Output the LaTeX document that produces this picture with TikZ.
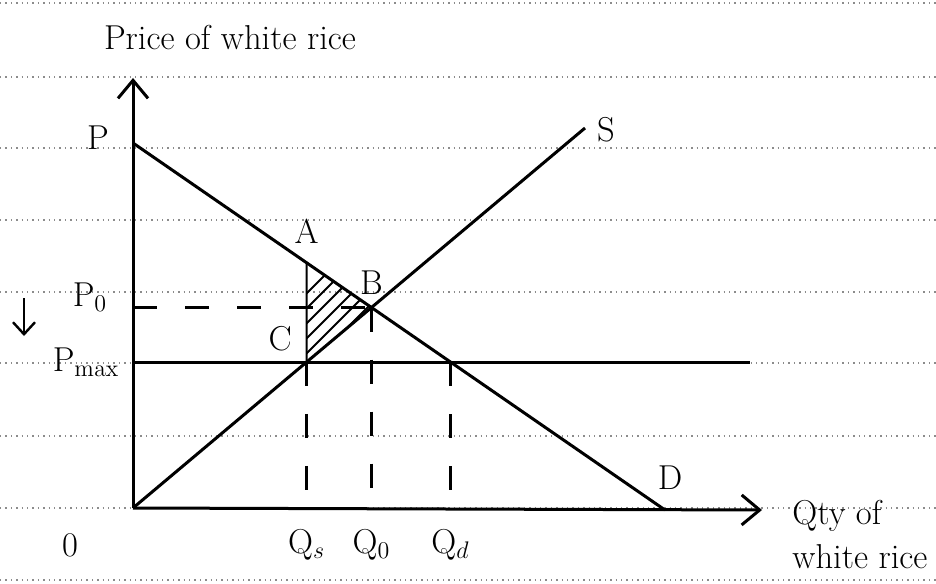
\documentclass[tikz,border=0pt]{standalone}
\usetikzlibrary{arrows.meta,positioning}
\begin{document}
\begin{tikzpicture}[x=0.5pt,y=-0.5pt, every node/.style={font=\LARGE},
  curve/.style={line width=1.5pt},
  ax/.style={line width=1.5pt,-{Straight Barb[length=9pt,width=15pt]}},
  guide/.style={line width=1.3pt,dash pattern=on 12pt off 14pt},
  hatch/.style={line width=1pt},
  ruled/.style={black!45,line width=0.7pt,dotted}]
\useasboundingbox (0,0) rectangle (936,583);
% lined paper
\foreach \y in {3,77,148,220,292,363,436,508,580}
  \draw[ruled] (0,\y) -- (936,\y);
% points
\coordinate (O) at (133,508);
\coordinate (ytip) at (133,78);
\coordinate (xtip) at (762,510);
\coordinate (P) at (133,143);
\coordinate (Dend) at (665,510);
\coordinate (Send) at (585,128);
\coordinate (Pm) at (133,362);
\coordinate (Pmend) at (750,362);
\coordinate (B) at (intersection of P--Dend and O--Send);
\coordinate (C) at (intersection of O--Send and Pm--Pmend);
\coordinate (Ctop) at (C |- P);
\coordinate (Qdp) at (intersection of P--Dend and Pm--Pmend);
\coordinate (A) at (intersection of P--Dend and C--Ctop);
\coordinate (Po) at (O |- B);
\coordinate (Qs) at (O -| C);
\coordinate (Qo) at (O -| B);
\coordinate (Qd) at (O -| Qdp);
% deadweight loss
\begin{scope}
  \clip (A) -- (B) -- (C) -- cycle;
  \foreach \i in {0,...,14}
    \draw[hatch] (200+\i*15,400) -- ++(160,-160);
\end{scope}
\draw[hatch] (A) -- (C);
% axes
\draw[ax] (O) -- (ytip);
\draw[ax] (O) -- (xtip);
% curves
\draw[curve] (P) -- (Dend);
\draw[curve] (O) -- (Send);
\draw[curve] (Pm) -- (Pmend);
% guides
\draw[guide] (Po) -- (B);
\draw[guide] (C) -- (Qs);
\draw[guide] (B) -- (Qo);
\draw[guide] (Qdp) -- (Qd);
% price falls
\coordinate (dn1) at (24,298);
\coordinate (dn2) at (24,336);
\draw[line width=1.2pt,-{Straight Barb[length=6pt,width=11pt]}] (dn1) -- (dn2);
% labels
\node (ylab) at (230,38) {Price of white rice};
\node (xlab) at (860,535) [align=left] {Qty of\\white rice};
\node (lP) at (98,138) {P};
\node (lPo) at (90,297) {P$_0$};
\node (lPm) at (86,362) {P$_{\mathrm{max}}$};
\node (lO) at (70,545) {0};
\node (lQs) [below=7pt of Qs] {Q$_s$};
\node (lQo) [below=7pt of Qo] {Q$_0$};
\node (lQd) [below=7pt of Qd] {Q$_d$};
\node (lS) at (606,130) {S};
\node (lD) at (670,478) {D};
\node (lA) [above=6pt of A] {A};
\node (lB) [above=3pt of B] {B};
\node (lC) [above left=2pt and 4pt of C] {C};
\end{tikzpicture}
\end{document}
